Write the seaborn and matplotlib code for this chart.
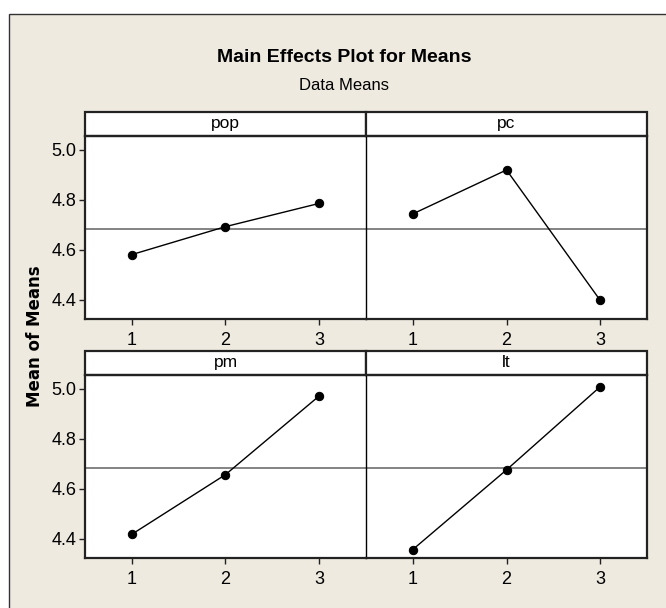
import numpy as np
import pandas as pd
import matplotlib
matplotlib.use("Agg")
import matplotlib.pyplot as plt
from matplotlib.patches import Rectangle
import seaborn as sns

# Values
factors = ["pop", "pc", "pm", "lt"]
levels = [1, 2, 3]
pop_means = [4.580, 4.692, 4.785]
pc_means = [4.743, 4.919, 4.397]
pm_means = [4.417, 4.656, 4.971]
lt_means = [4.356, 4.675, 5.008]
y_ticks = [4.4, 4.6, 4.8, 5.0]

NARROW = ["Liberation Sans", "DejaVu Sans"]
BEIGE = "#EEEAE0"


def build_frame():
    rows = []
    for name, vals in zip(factors, [pop_means, pc_means, pm_means, lt_means]):
        for lev, v in zip(levels, vals):
            rows.append({"factor": name, "level": lev, "mean": v})
    return pd.DataFrame(rows)


def main():
    df = build_frame()
    grand_mean = df["mean"].mean()

    sns.set_style("white")
    plt.rcParams["font.family"] = NARROW
    plt.rcParams["text.color"] = "black"
    plt.rcParams["xtick.color"] = "black"
    plt.rcParams["ytick.color"] = "black"

    g = sns.FacetGrid(df, col="factor", col_order=factors, col_wrap=2,
                      sharex=True, sharey=True, despine=False,
                      height=2.5, aspect=1.5)
    g.map_dataframe(sns.lineplot, x="level", y="mean", color="black",
                    marker="o", markersize=6, markeredgecolor="black",
                    linewidth=1.0)

    fig = g.figure
    fig.set_size_inches(6.66, 6.08)
    fig.set_dpi(100)
    fig.patch.set_facecolor("white")
    fig.subplots_adjust(left=85 / 666, right=647 / 666,
                        top=1 - 136 / 608, bottom=1 - 558 / 608,
                        wspace=0, hspace=0.306)

    # beige frame behind everything
    fig.add_artist(Rectangle((9 / 666, -0.01), 1.0, 1 - 14 / 608 + 0.01,
                             transform=fig.transFigure, facecolor=BEIGE,
                             edgecolor="#333333", linewidth=1.0, zorder=-10))

    strip_h = 24 / 183
    for i, ax in enumerate(g.axes.flat):
        ax.set_facecolor("white")
        ax.set_title("")
        ax.set_xlabel("")
        ax.set_ylabel("")
        ax.set_xlim(0.5, 3.5)
        ax.set_ylim(4.322, 5.055)
        ax.set_xticks(levels)
        ax.set_xticklabels([str(l) for l in levels])
        ax.set_yticks(y_ticks)
        ax.set_yticklabels([f"{t:.1f}" for t in y_ticks])
        ax.axhline(grand_mean, color="#7a7a7a", linewidth=1.3, zorder=1)
        ax.tick_params(axis="both", direction="out", length=4, width=1,
                       color="#222222", labelsize=13, pad=2,
                       labelbottom=True, bottom=True)
        ax.tick_params(axis="x", pad=5)
        for s in ax.spines.values():
            s.set_linewidth(1.6)
            s.set_color("#222222")
        if i % 2 == 0:
            ax.spines["right"].set_visible(False)
            ax.tick_params(left=True, labelleft=True)
        else:
            ax.spines["left"].set_linewidth(1.0)
            ax.spines["left"].set_color("black")
            ax.tick_params(left=False, labelleft=False)

        ax.add_patch(Rectangle((0, 1), 1, strip_h, transform=ax.transAxes,
                               facecolor="white", edgecolor="#222222",
                               linewidth=1.6, clip_on=False))
        ax.text(0.5, 1 + strip_h / 2, factors[i], transform=ax.transAxes,
                ha="center", va="center", fontsize=12.5)

    fig.text(344 / 666, 1 - 58 / 608, "Main Effects Plot for Means",
             ha="center", va="center", fontsize=14, fontweight="bold")
    fig.text(344 / 666, 1 - 85 / 608, "Data Means",
             ha="center", va="center", fontsize=12)
    fig.text(35 / 666, 1 - 336 / 608, "Mean of Means", rotation=90,
             ha="center", va="center", fontsize=12, fontweight="bold",
             family="DejaVu Sans")

    fig.savefig("out.png", dpi=100, facecolor="white")


if __name__ == "__main__":
    main()
